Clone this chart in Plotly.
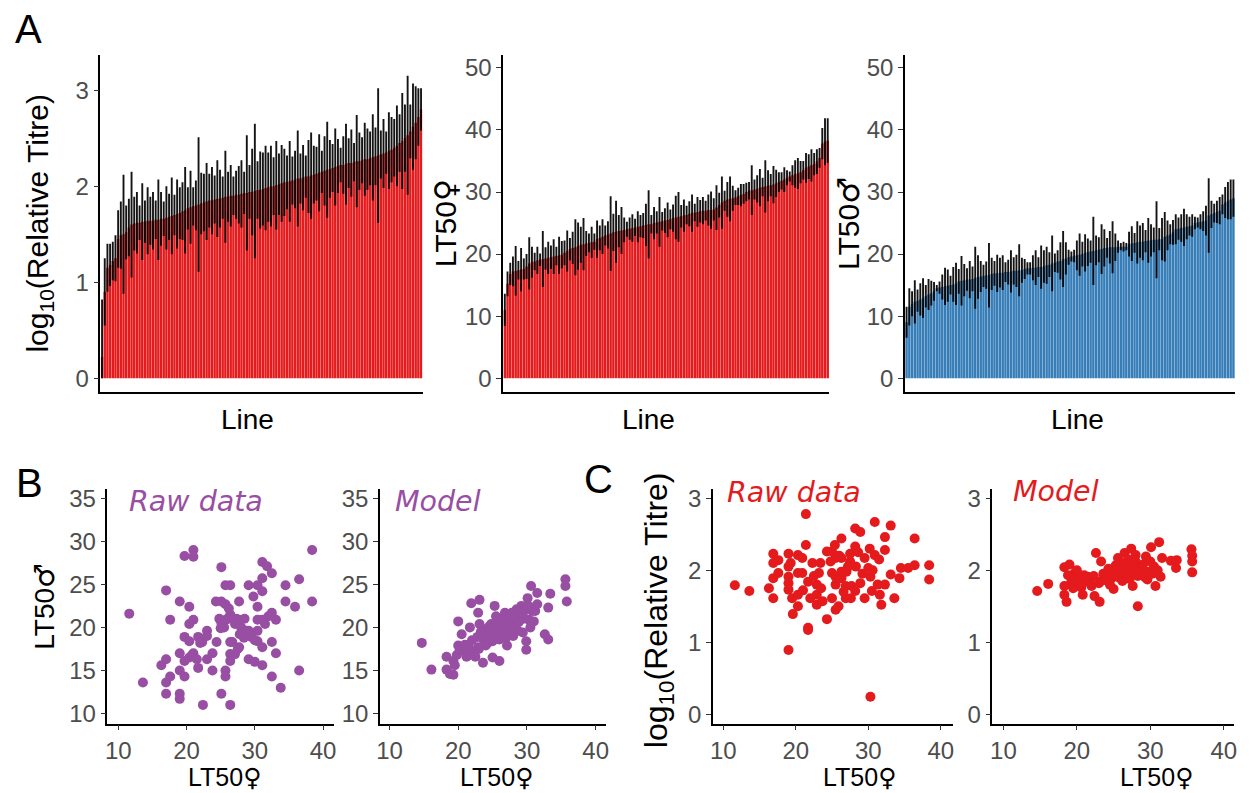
import plotly.graph_objects as go

# ---------------- DATA ----------------
# Panel A: per-line means (sorted) and error half-widths
titre_mean = [0.22, 0.90, 1.15, 1.18, 1.22, 1.25, 1.45, 1.49, 1.50, 1.52,
              1.57, 1.60, 1.61, 1.62, 1.62, 1.63, 1.63, 1.64, 1.64, 1.64,
              1.65, 1.65, 1.66, 1.66, 1.67, 1.68, 1.69, 1.70, 1.71, 1.72,
              1.74, 1.75, 1.77, 1.78, 1.79, 1.80, 1.81, 1.82, 1.83, 1.84,
              1.85, 1.85, 1.86, 1.87, 1.87, 1.88, 1.89, 1.89, 1.90, 1.90,
              1.91, 1.91, 1.92, 1.93, 1.93, 1.94, 1.94, 1.95, 1.96, 1.96,
              1.97, 1.98, 1.99, 2.00, 2.00, 2.01, 2.02, 2.03, 2.04, 2.04,
              2.05, 2.06, 2.07, 2.08, 2.08, 2.09, 2.10, 2.10, 2.11, 2.12,
              2.13, 2.14, 2.15, 2.16, 2.17, 2.18, 2.19, 2.20, 2.21, 2.22,
              2.22, 2.23, 2.24, 2.24, 2.25, 2.26, 2.26, 2.27, 2.28, 2.28,
              2.29, 2.30, 2.31, 2.32, 2.33, 2.34, 2.35, 2.37, 2.38, 2.40,
              2.42, 2.45, 2.47, 2.50, 2.53, 2.57, 2.62, 2.66, 2.72, 2.80]
titre_err = [0.60, 0.35, 0.25, 0.22, 0.20, 0.24, 0.30, 0.35, 0.62, 0.28,
             0.30, 0.55, 0.28, 0.32, 0.18, 0.40, 0.22, 0.35, 0.25, 0.30,
             0.20, 0.42, 0.28, 0.18, 0.33, 0.24, 0.40, 0.21, 0.36, 0.27,
             0.30, 0.45, 0.22, 0.38, 0.20, 0.26, 0.70, 0.32, 0.30, 0.40,
             0.28, 0.35, 0.25, 0.40, 0.30, 0.22, 0.48, 0.26, 0.32, 0.20,
             0.25, 0.30, 0.35, 0.22, 0.60, 0.28, 0.45, 0.70, 0.30, 0.40,
             0.38, 0.44, 0.36, 0.42, 0.30, 0.46, 0.32, 0.40, 0.35, 0.28,
             0.42, 0.25, 0.30, 0.50, 0.26, 0.34, 0.22, 0.38, 0.45, 0.30,
             0.28, 0.40, 0.22, 0.36, 0.50, 0.30, 0.25, 0.40, 0.28, 0.18,
             0.30, 0.42, 0.26, 0.35, 0.20, 0.48, 0.30, 0.24, 0.38, 0.32,
             0.28, 0.45, 0.30, 0.70, 0.25, 0.36, 0.22, 0.40, 0.34, 0.30,
             0.42, 0.30, 0.50, 0.35, 0.62, 0.28, 0.45, 0.38, 0.30, 0.22]

lt50f_mean = [11.0, 15.2, 16.8, 17.2, 17.3, 17.4, 17.5, 17.6, 18.0, 18.5,
              18.7, 18.8, 19.0, 19.1, 19.2, 19.3, 19.4, 19.5, 19.6, 19.7,
              19.8, 19.9, 20.2, 20.5, 20.8, 21.0, 21.1, 21.3, 21.5, 21.6,
              21.7, 21.8, 21.9, 22.0, 22.4, 22.6, 22.8, 23.0, 23.1, 23.3,
              23.5, 23.6, 23.7, 23.8, 23.9, 24.0, 24.1, 24.2, 24.3, 24.4,
              24.5, 24.6, 24.7, 24.8, 24.8, 25.0, 25.1, 25.2, 25.3, 25.4,
              25.5, 25.6, 25.8, 25.9, 26.0, 26.1, 26.2, 26.3, 26.5, 26.6,
              26.7, 26.8, 26.9, 27.0, 27.0, 27.1, 27.1, 27.2, 27.5, 27.9,
              28.3, 28.6, 28.8, 28.9, 29.0, 29.1, 29.3, 29.5, 29.7, 30.0,
              30.2, 30.3, 30.4, 30.5, 30.7, 30.8, 30.9, 31.0, 31.1, 31.2,
              31.4, 31.6, 31.8, 32.0, 32.3, 32.5, 32.7, 32.9, 33.0, 33.2,
              33.5, 33.9, 34.1, 34.3, 34.5, 34.9, 35.5, 37.8, 38.1, 38.3]
lt50f_err = [2.6, 2.0, 1.8, 2.4, 4.0, 1.5, 3.5, 1.7, 2.0, 4.2,
             2.5, 1.4, 2.2, 1.0, 4.5, 1.8, 2.6, 1.9, 2.8, 1.5,
             3.0, 2.2, 2.0, 3.3, 1.8, 2.6, 4.5, 3.8, 2.9, 4.2,
             2.0, 1.5, 2.5, 1.3, 3.0, 2.0, 2.8, 1.6, 2.2, 6.0,
             3.0, 5.0, 2.6, 3.8, 2.0, 1.2, 1.8, 2.2, 1.4, 2.5,
             1.8, 2.0, 3.4, 5.5, 1.5, 2.6, 1.8, 4.0, 1.5, 2.0,
             2.8, 1.6, 2.2, 3.5, 4.0, 1.8, 2.6, 1.5, 2.0, 3.0,
             1.4, 2.4, 1.8, 2.2, 1.6, 2.5, 3.0, 1.8, 3.6, 2.0,
             4.2, 1.6, 2.8, 3.6, 2.0, 1.2, 1.4, 1.8, 1.6, 1.5,
             1.4, 4.0, 1.6, 2.2, 3.0, 1.5, 4.2, 2.5, 1.8, 3.0,
             2.2, 1.6, 1.4, 2.0, 1.2, 0.8, 1.6, 2.2, 2.5, 1.8,
             1.5, 2.4, 2.0, 2.6, 1.8, 2.0, 1.6, 2.5, 3.8, 3.6]

lt50m_mean = [9.0, 11.5, 12.0, 12.3, 12.5, 12.7, 12.9, 13.2, 13.5, 13.7,
              14.0, 14.5, 14.6, 14.7, 14.8, 14.9, 15.0, 15.1, 15.2, 15.6,
              15.7, 15.8, 15.9, 15.9, 16.0, 16.2, 16.3, 16.4, 16.5, 16.6,
              16.6, 16.8, 16.9, 16.9, 17.0, 17.0, 17.1, 17.1, 17.2, 17.3,
              17.3, 17.4, 17.4, 17.6, 17.7, 17.7, 17.8, 17.8, 17.9, 17.9,
              18.0, 18.2, 18.3, 18.5, 18.6, 18.8, 18.9, 19.2, 19.3, 19.5,
              19.6, 19.7, 19.8, 19.9, 20.0, 20.2, 20.3, 20.4, 20.5, 20.6,
              20.7, 20.8, 21.0, 21.0, 21.1, 21.1, 21.1, 21.2, 21.2, 21.2,
              21.2, 21.6, 21.7, 21.8, 21.9, 22.0, 22.0, 22.1, 22.2, 22.2,
              22.3, 22.3, 22.4, 22.4, 22.8, 23.0, 23.2, 23.5, 24.0, 24.1,
              24.2, 24.3, 24.4, 24.5, 24.6, 25.0, 25.1, 25.2, 25.3, 25.4,
              26.2, 26.4, 26.6, 26.8, 27.0, 28.0, 28.3, 28.6, 28.8, 29.0]
lt50m_err = [2.5, 3.0, 2.0, 3.5, 1.8, 2.6, 3.2, 1.8, 2.5, 2.0,
             1.5, 0.5, 1.0, 2.0, 3.0, 2.6, 1.5, 2.8, 3.4, 2.0,
             4.0, 2.6, 1.8, 3.0, 2.0, 5.0, 3.5, 2.5, 1.8, 2.2,
             5.2, 2.6, 2.0, 3.0, 2.4, 2.8, 1.6, 2.0, 3.4, 2.2,
             2.6, 4.2, 2.0, 1.6, 1.0, 1.0, 2.0, 2.8, 1.6, 3.5,
             2.6, 3.0, 2.0, 4.5, 1.5, 1.8, 3.0, 4.5, 2.6, 1.2,
             0.8, 1.0, 2.4, 3.4, 2.0, 3.0, 2.2, 1.8, 5.5, 2.4,
             2.0, 4.0, 3.0, 1.6, 2.6, 4.2, 2.2, 1.0, 0.6, 0.8,
             0.6, 2.0, 2.8, 1.6, 3.4, 2.6, 3.0, 1.8, 3.6, 2.6,
             2.0, 6.2, 1.8, 3.4, 4.0, 2.4, 1.6, 2.0, 2.4, 1.8,
             2.2, 3.0, 2.0, 1.5, 1.8, 1.0, 0.8, 1.2, 1.6, 2.4,
             6.0, 2.2, 1.5, 1.8, 2.2, 1.6, 2.5, 3.0, 3.2, 3.0]

# Panel B: LT50 female vs male (raw data and model)
b_raw_f = [11.6, 13.6, 17.0, 17.0, 17.0, 17.0, 16.3, 17.6, 17.6, 19.0,
           19.0, 19.0, 19.0, 19.0, 19.7, 21.0, 21.0, 19.7, 19.7, 19.7,
           20.4, 20.4, 20.4, 20.4, 21.0, 21.0, 21.7, 21.7, 22.3, 22.4,
           23.0, 23.0, 23.8, 23.8, 24.3, 24.4, 25.1, 25.1, 25.1, 25.1,
           25.7, 25.7, 25.7, 25.7, 25.8, 26.4, 26.4, 26.4, 26.4, 26.4,
           26.4, 27.1, 27.1, 27.7, 27.7, 27.7, 28.4, 28.4, 29.1, 29.1,
           29.1, 29.8, 30.4, 30.4, 30.4, 30.4, 30.4, 31.1, 31.1, 31.1,
           31.1, 31.1, 31.1, 31.8, 32.5, 32.5, 32.5, 32.5, 33.1, 33.1,
           33.8, 34.5, 34.5, 35.9, 36.5, 36.5, 38.4, 38.4, 26.0, 26.2,
           27.3, 27.8, 28.0, 28.8, 29.5, 30.0, 25.5, 24.8, 26.7, 25.0,
           22.0, 20.8, 21.5, 27.5, 30.0, 32.0, 31.5, 28.5, 23.0]
b_raw_m = [21.6, 13.6, 24.3, 16.3, 13.6, 12.3, 15.6, 20.9, 14.3, 23.0,
           17.0, 15.0, 12.3, 11.7, 28.3, 29.0, 28.2, 18.9, 14.3, 16.1,
           22.4, 20.4, 18.4, 16.5, 20.9, 17.0, 15.3, 18.9, 18.3, 11.0,
           19.6, 16.3, 17.0, 15.0, 23.0, 18.3, 27.0, 23.0, 20.5, 12.3,
           24.9, 22.7, 15.0, 14.3, 20.9, 24.9, 11.0, 18.3, 21.5, 16.9,
           16.1, 20.4, 16.9, 23.0, 20.9, 17.7, 19.6, 18.8, 16.3, 24.9,
           19.6, 23.6, 24.9, 22.4, 20.9, 19.6, 18.4, 27.6, 25.7, 24.2,
           20.9, 17.7, 15.6, 27.1, 26.3, 21.7, 18.3, 14.3, 20.9, 17.0,
           13.0, 24.9, 23.0, 22.4, 25.6, 15.0, 29.0, 23.0, 21.0, 22.2,
           21.0, 19.2, 20.0, 19.6, 18.9, 18.5, 20.0, 21.0, 18.3, 19.9,
           18.2, 16.8, 16.3, 17.5, 16.0, 21.3, 20.4, 21.0, 19.0]
b_mod_f = [14.7, 16.1, 18.3, 18.3, 18.8, 19.3, 19.3, 20.0, 20.0, 20.5,
           20.7, 21.4, 21.7, 21.9, 22.9, 23.1, 22.9, 23.6, 23.1, 24.1,
           24.3, 24.8, 25.3, 25.0, 25.5, 26.0, 26.3, 26.7, 26.8, 27.1,
           27.3, 27.8, 28.0, 28.5, 28.7, 29.2, 29.4, 29.9, 29.9, 30.1,
           30.3, 30.6, 30.8, 31.0, 31.2, 31.5, 32.6, 33.1, 33.1, 33.4,
           35.6, 35.6, 35.8, 20.5, 21.0, 21.5, 22.0, 22.3, 22.8, 23.3,
           23.6, 24.0, 24.5, 24.7, 25.2, 25.6, 25.9, 26.2, 26.5, 26.8,
           27.0, 27.4, 27.6, 28.2, 28.4, 28.8, 29.0, 29.5, 29.8, 30.2,
           28.0, 27.0, 26.0, 25.0, 24.0, 23.0, 21.2, 19.8, 20.2, 19.5,
           30.5, 31.5, 22.5]
b_mod_m = [18.2, 15.1, 16.6, 15.1, 14.6, 14.5, 16.1, 20.7, 17.9, 19.2,
           17.3, 16.7, 20.0, 22.8, 21.7, 23.2, 17.7, 15.9, 20.4, 19.2,
           18.2, 20.4, 22.5, 16.5, 21.3, 16.1, 19.6, 20.4, 21.7, 17.9,
           19.6, 21.7, 20.4, 22.1, 19.6, 22.5, 19.4, 18.4, 17.4, 23.4,
           20.9, 24.8, 21.9, 20.7, 21.9, 24.0, 19.2, 18.6, 22.3, 23.9,
           25.6, 24.8, 23.0, 17.6, 18.0, 17.8, 18.5, 17.2, 18.9, 19.5,
           18.7, 19.8, 20.1, 19.0, 19.7, 20.3, 19.1, 21.0, 20.0, 19.3,
           20.8, 20.2, 21.2, 19.9, 21.4, 20.6, 21.8, 21.0, 22.0, 22.5,
           19.0, 18.8, 18.6, 18.4, 17.9, 17.5, 16.6, 16.8, 17.4, 15.6,
           20.0, 22.7, 16.6]

# Panel C: LT50 female vs log10 titre (raw data and model)
c_raw_f = [11.6, 13.6, 16.3, 16.9, 16.9, 16.9, 16.9, 17.6, 17.6, 19.0,
           19.0, 19.0, 19.0, 19.0, 19.0, 19.5, 19.6, 20.3, 20.3, 20.3,
           20.3, 20.9, 20.9, 21.4, 21.4, 21.7, 21.7, 21.7, 22.0, 22.3,
           22.9, 22.9, 22.9, 23.2, 23.4, 23.7, 24.3, 24.3, 25.0, 25.0,
           25.0, 25.4, 25.5, 25.5, 25.5, 25.5, 25.9, 26.3, 26.3, 26.3,
           26.3, 26.9, 26.9, 27.0, 27.5, 27.5, 27.6, 27.7, 28.2, 28.2,
           28.2, 28.3, 28.9, 28.9, 29.5, 29.5, 30.0, 30.2, 30.3, 30.3,
           30.5, 30.9, 30.9, 31.3, 31.6, 31.8, 32.3, 32.3, 32.3, 33.1,
           33.1, 33.6, 34.3, 34.5, 35.5, 36.4, 36.4, 38.4, 38.4, 24.8,
           26.0, 27.2, 28.6, 29.2, 23.5, 21.0, 19.3, 31.5, 30.6, 26.6,
           22.5]
c_raw_t = [1.79, 1.71, 1.75, 2.23, 2.10, 1.89, 1.61, 2.14, 1.96, 2.23,
           2.05, 1.91, 1.82, 1.73, 0.89, 1.61, 1.39, 1.50, 1.66, 1.96,
           2.21, 2.17, 1.96, 2.35, 2.78, 1.20, 1.17, 1.84, 1.61, 2.10,
           1.66, 1.52, 1.80, 1.96, 2.10, 1.57, 2.26, 1.32, 1.61, 1.96,
           2.26, 2.35, 2.17, 1.91, 1.80, 1.45, 1.50, 2.44, 2.17, 1.98,
           1.89, 1.61, 1.78, 1.98, 2.23, 2.12, 1.61, 1.78, 2.33, 2.58,
           1.71, 2.05, 2.53, 1.82, 1.61, 2.17, 2.03, 2.30, 0.24, 1.91,
           1.71, 2.67, 2.21, 1.80, 1.66, 1.52, 2.46, 2.28, 1.80, 2.62,
           1.94, 1.61, 1.89, 2.03, 2.03, 2.44, 2.07, 2.07, 1.87, 2.12,
           2.20, 2.05, 2.25, 1.95, 1.75, 1.72, 2.10, 2.15, 2.00, 1.70,
           1.92]
c_mod_f = [14.6, 16.1, 18.3, 18.3, 18.3, 18.6, 19.0, 19.7, 20.2, 20.6,
           20.8, 21.5, 22.4, 22.6, 23.1, 23.3, 23.3, 24.0, 24.7, 25.0,
           25.3, 25.6, 25.8, 26.5, 26.7, 27.4, 27.6, 28.0, 28.3, 28.5,
           29.4, 29.6, 30.1, 30.5, 30.7, 31.2, 31.4, 31.6, 32.8, 33.5,
           33.6, 35.6, 35.7, 35.7, 35.7, 19.2, 19.8, 20.4, 21.0, 21.2,
           21.8, 22.0, 22.3, 23.0, 23.6, 24.0, 24.3, 24.5, 25.0, 25.4,
           25.7, 26.0, 26.2, 26.5, 26.8, 27.0, 27.2, 27.5, 27.8, 28.0,
           28.3, 28.7, 29.0, 29.3, 29.8, 30.0, 30.3, 31.0, 19.5, 20.0,
           18.8]
c_mod_t = [1.71, 1.81, 2.04, 1.78, 1.66, 1.56, 2.08, 1.96, 1.87, 1.76,
           1.66, 1.91, 1.64, 2.24, 1.56, 2.12, 1.85, 1.96, 1.89, 1.74,
           2.07, 2.17, 1.96, 2.24, 2.03, 2.30, 1.78, 2.21, 1.50, 2.03,
           2.19, 1.87, 2.32, 2.05, 1.78, 2.39, 1.91, 2.17, 2.13, 2.03,
           2.14, 2.29, 2.20, 2.12, 1.97, 1.82, 1.91, 1.80, 1.93, 1.84,
           1.88, 1.78, 1.92, 1.82, 1.95, 1.86, 2.02, 1.80, 1.93, 2.00,
           1.90, 2.08, 1.85, 2.10, 1.95, 2.15, 1.88, 2.05, 1.98, 2.12,
           1.92, 2.00, 2.08, 1.90, 1.98, 2.12, 1.95, 2.00, 1.75, 2.00,
           1.93]

RED = "#E41A1C"
BLUE = "#377EB8"
PURPLE = "#984EA3"

W, H = 1250, 793
def px(x):
    return x / W
def py(y):
    return 1 - y / H

fig = go.Figure()

line_idx = list(range(1, len(titre_mean) + 1))

def add_bars(means, errs, color, xa, ya):
    fig.add_trace(go.Bar(
        x=line_idx[:len(means)], y=means, marker=dict(color=color, line=dict(width=0)),
        error_y=dict(type="data", array=errs,
                     arrayminus=[min(e, m) for e, m in zip(errs, means)],
                     color="rgba(0,0,0,0.92)", thickness=1.9, width=0),
        xaxis=xa, yaxis=ya, showlegend=False, width=0.9))

add_bars(titre_mean, titre_err, RED, "x", "y")
add_bars(lt50f_mean, lt50f_err, RED, "x2", "y2")
add_bars(lt50m_mean, lt50m_err, BLUE, "x3", "y3")

def add_scatter(xs, ys, color, xa, ya):
    fig.add_trace(go.Scatter(x=xs, y=ys, mode="markers",
                             marker=dict(color=color, size=10, line=dict(width=0)),
                             xaxis=xa, yaxis=ya, showlegend=False))

add_scatter(b_raw_f, b_raw_m, PURPLE, "x4", "y4")
add_scatter(b_mod_f, b_mod_m, PURPLE, "x5", "y5")
add_scatter(c_raw_f, c_raw_t, RED, "x6", "y6")
add_scatter(c_mod_f, c_mod_t, RED, "x7", "y7")

TICKFONT = dict(family="Liberation Sans, Arial, sans-serif", size=24, color="#4D4D4D")

def axis_common():
    return dict(showline=True, linecolor="black", linewidth=1.5, showgrid=False,
                zeroline=False, ticks="outside", ticklen=5, tickwidth=1.3,
                tickcolor="#333333", tickfont=TICKFONT, fixedrange=True)

layout_axes = {}
# (name, x-dom px, y-dom px, xrange, yrange, xticks, yticks)
panels = [
    ("", (97, 421), (52, 392), [0.4, 120.6], [-0.144, 3.361], None, [0, 1, 2, 3]),
    ("2", (502, 830), (52, 392), [0.4, 120.6], [-2.23, 52.0], None, [0, 10, 20, 30, 40, 50]),
    ("3", (906, 1238), (52, 392), [0.4, 120.6], [-2.23, 52.0], None, [0, 10, 20, 30, 40, 50]),
    ("4", (104, 332), (490, 727), [8.40, 41.63], [8.82, 36.07], [10, 20, 30, 40], [10, 15, 20, 25, 30, 35]),
    ("5", (378, 605), (490, 727), [8.60, 41.45], [8.82, 36.07], [10, 20, 30, 40], [10, 15, 20, 25, 30, 35]),
    ("6", (713, 954), (490, 727), [8.59, 41.64], [-0.133, 3.128], [10, 20, 30, 40], [0, 1, 2, 3]),
    ("7", (994, 1237), (490, 727), [8.51, 41.40], [-0.133, 3.128], [10, 20, 30, 40], [0, 1, 2, 3]),
]
for name, xd, yd, xr, yr, xt, yt in panels:
    xa = axis_common()
    xa.update(domain=[px(xd[0]), px(xd[1])], range=xr, anchor="y" + name)
    if xt is None:
        xa.update(showticklabels=False, ticks="")
    else:
        xa.update(tickmode="array", tickvals=xt)
    ya = axis_common()
    ya.update(domain=[py(yd[1]), py(yd[0])], range=yr, anchor="x" + name,
              tickmode="array", tickvals=yt)
    layout_axes["xaxis" + name] = xa
    layout_axes["yaxis" + name] = ya

annotations = []
def tfont(size):
    return dict(family="Liberation Sans, Arial, sans-serif", size=size, color="black")
SYM = "<span style='font-family:DejaVu Sans'>{}</span>"
FEMALE = "LT50" + SYM.format("♀")
MALE = "LT50" + SYM.format("♂")

def ann(text, x, y, font, angle=0):
    annotations.append(dict(text=text, x=px(x), y=py(y), xref="paper", yref="paper",
                            showarrow=False, xanchor="center", yanchor="middle",
                            textangle=angle, font=font))

# panel letters
ann("A", 25, 25, tfont(40))
ann("B", 26, 484, tfont(40))
ann("C", 598, 480, tfont(40))

# A axis titles
ann("log<sub>10</sub>(Relative Titre)", 36, 222, tfont(30), -90)
ann(FEMALE, 444, 222, tfont(30), -90)
ann(MALE, 850, 222, tfont(30), -90)
for xc in (245, 648, 1080):
    ann("Line", xc, 420, tfont(28))

# B / C axis titles
ann(MALE, 41, 608, tfont(28), -90)
ann("log<sub>10</sub>(Relative Titre)", 659, 612, tfont(32), -90)
for xc in (222, 495, 860, 1159):
    ann(FEMALE, xc, 781, tfont(25))

# in-panel labels
def lab(text, x, y, color):
    annotations.append(dict(text="<i>" + text + "</i>", x=px(x), y=py(y), xref="paper",
                            yref="paper", showarrow=False, xanchor="left", yanchor="middle",
                            font=dict(family="DejaVu Sans, sans-serif", size=28.5, color=color)))

lab("Raw data", 124, 503, PURPLE)
lab("Model", 391, 503, PURPLE)
lab("Raw data", 725, 493, RED)
lab("Model", 1013, 492, RED)

fig.update_layout(
    width=W, height=H, margin=dict(l=0, r=0, t=0, b=0),
    paper_bgcolor="white", plot_bgcolor="white",
    bargap=0.1, showlegend=False, annotations=annotations,
    **layout_axes)

fig.write_html("out.html", config={"displayModeBar": False},
               post_script="document.body.style.margin='0';document.body.style.overflow='hidden';")
